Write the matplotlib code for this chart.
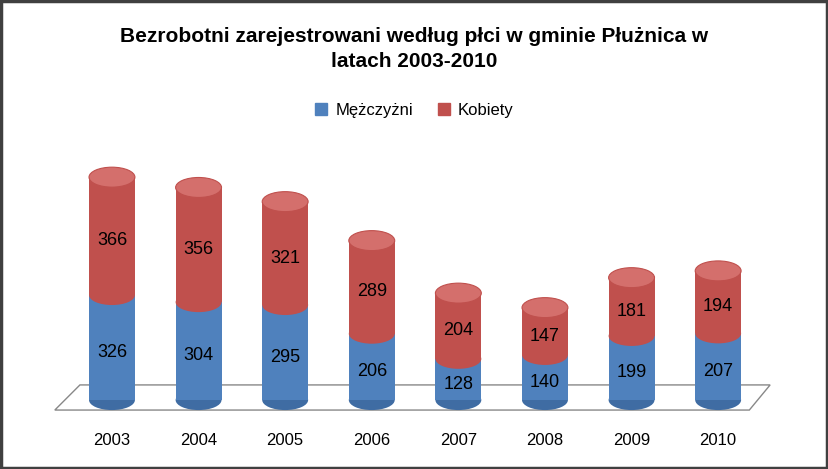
import matplotlib.pyplot as plt
from matplotlib.patches import Ellipse, Rectangle, Polygon
import numpy as np

years = ["2003", "2004", "2005", "2006", "2007", "2008", "2009", "2010"]
men = [326, 304, 295, 206, 128, 140, 199, 207]
women = [366, 356, 321, 289, 204, 147, 181, 194]

blue, blue_dark = "#4F81BD", "#3F6CA3"
red, red_top = "#C0504D", "#D46F6C"

plt.rcParams["font.family"] = "Liberation Sans"
fig = plt.figure(figsize=(8.29, 4.69), dpi=100)
ax = fig.add_axes([0, 0, 1, 1])
ax.set_xlim(-1.293, 8.28)
ax.set_ylim(-214, 1242)
ax.axis("off")

w = 0.53      # cylinder width
eh = 62       # ellipse height in data units

# floor
floor = Polygon([[-0.66, -31], [7.36, -31], [7.6, 47], [-0.37, 47]],
                closed=True, facecolor="white", edgecolor="#888888", lw=1)
ax.add_patch(floor)

x = np.arange(len(years))
for i in x:
    m, k = men[i], women[i]
    ax.add_patch(Ellipse((i, 0), w, eh, facecolor=blue_dark, edgecolor="none"))
    ax.add_patch(Rectangle((i - w / 2, 0), w, m, facecolor=blue, edgecolor="none"))
    ax.add_patch(Rectangle((i - w / 2, m), w, k, facecolor=red, edgecolor="none"))
    ax.add_patch(Ellipse((i, m), w, eh, facecolor=red, edgecolor="none"))
    ax.add_patch(Ellipse((i, m + k), w, eh, facecolor=red_top, edgecolor=red, lw=0.8))
    ax.text(i, m / 2 - 15, str(m), ha="center", va="center", fontsize=13)
    ax.text(i, m + k / 2 - 15, str(k), ha="center", va="center", fontsize=13)
    ax.text(i, -124, years[i], ha="center", va="center", fontsize=12)

fig.text(0.5, 0.895, "Bezrobotni zarejestrowani według płci w gminie Płużnica w\nlatach 2003-2010",
         ha="center", va="center", fontsize=15, fontweight="bold", linespacing=1.4)

handles = [Rectangle((0, 0), 1, 1, color=blue), Rectangle((0, 0), 1, 1, color=red)]
fig.legend(handles, ["Mężczyżni", "Kobiety"], loc="center", bbox_to_anchor=(0.5, 0.765),
           ncol=2, frameon=False, fontsize=12, handlelength=0.7, handleheight=0.7,
           columnspacing=1.5, handletextpad=0.5)

fig.add_artist(Rectangle((0.001, 0.002), 0.997, 0.995, transform=fig.transFigure,
                         fill=False, edgecolor="#404040", lw=2.5))

fig.savefig("out.png", dpi=100)
